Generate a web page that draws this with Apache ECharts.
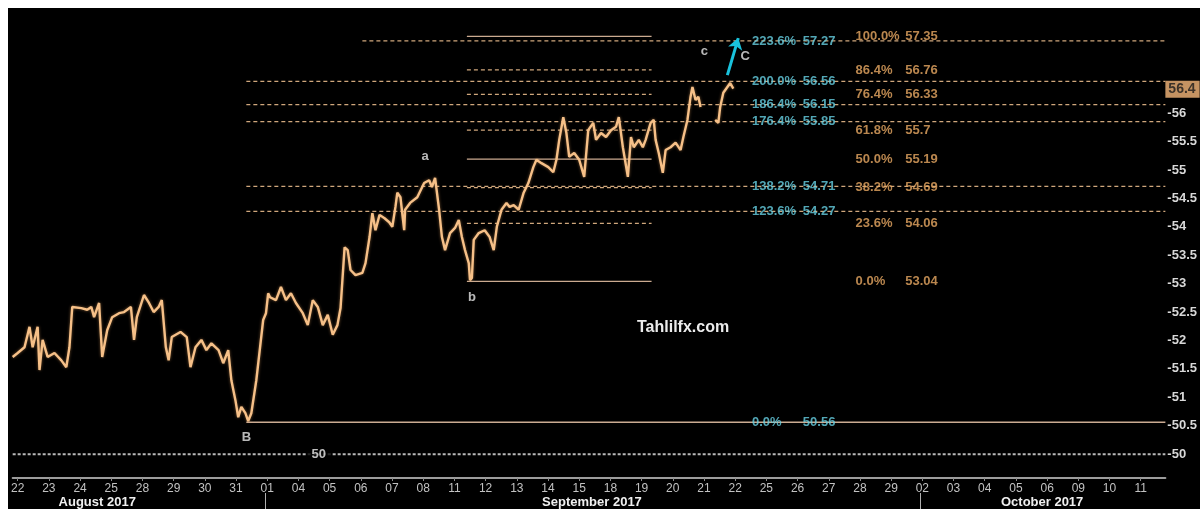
<!DOCTYPE html>
<html><head><meta charset="utf-8">
<script src="https://cdn.jsdelivr.net/npm/echarts@6/dist/echarts.min.js"></script>
<style>
html,body{margin:0;padding:0;background:#fff;width:1200px;height:509px;overflow:hidden}
#c{position:absolute;left:8px;top:8px;width:1192px;height:501px;background:#000}
</style>
</head><body><div id="c"></div>
<script>
// ---------- data ----------
const tradingDays = ['22','23','24','25','28','29','30','31','01','04','05','06','07','08','11','12','13','14','15','18','19','20','21','22','25','26','27','28','29','02','03','04','05','06','09','10','11'];
const months = ['August 2017','September 2017','October 2017'];
const monthCentre = [2.55, 18.41, 32.84];     // trading-day index where month label sits
const monthStart = [7.93, 28.93];             // separators (01 Sep, 02 Oct)

// time in trading-day index (0 = 22 Aug), price
const priceT = [
 -0.16,0,0.22,0.38,0.48,0.64,0.70,0.80,0.96,1.18,
 1.40,1.56,1.66,1.75,2.04,2.23,2.36,2.45,2.61,2.71,
 2.87,3.03,3.25,3.41,3.63,3.73,3.82,4.05,4.21,4.36,
 4.52,4.62,4.75,4.84,4.94,5.22,5.42,5.54,5.70,5.89,
 6.05,6.21,6.44,6.59,6.75,6.85,6.98,7.07,7.17,7.30,
 7.39,7.49,7.65,7.77,7.87,7.96,8.03,8.09,8.28,8.44,
 8.60,8.76,8.92,9.14,9.30,9.46,9.62,9.78,9.94,10.10,
 10.25,10.35,10.48,10.58,10.67,10.83,11.05,11.15,11.28,11.37,
 11.47,11.60,11.76,11.91,12.01,12.11,12.17,12.27,12.39,12.42,
 12.58,12.81,13.03,13.19,13.28,13.38,13.51,13.60,13.70,13.86,
 14.02,14.14,14.24,14.34,14.46,14.50,14.56,14.62,14.78,14.97,
 15.13,15.26,15.36,15.51,15.67,15.77,15.90,16.06,16.22,16.37,
 16.53,16.63,16.79,17.01,17.17,17.27,17.36,17.49,17.59,17.68,
 17.84,18.00,18.16,18.29,18.45,18.54,18.70,18.86,19.02,19.18,
 19.27,19.40,19.56,19.66,19.75,19.91,20.04,20.13,20.29,20.39,
 20.45,20.55,20.68,20.77,20.93,21.09,21.25,21.34,21.47,21.57,
 21.63,21.73,21.82,21.89,22.10,22.36,22.46,22.52,22.62,22.75,
 22.84,22.94
];
const priceV = [
 51.71,51.78,51.88,52.24,51.88,52.24,51.48,52.01,51.71,51.78,
 51.65,51.53,51.88,52.59,52.57,52.54,52.59,52.41,52.66,51.71,
 52.18,52.41,52.48,52.50,52.59,52.01,52.41,52.80,52.66,52.50,
 52.59,52.71,51.88,51.65,52.06,52.15,52.06,51.53,51.88,52.01,
 51.83,51.95,51.83,51.60,51.83,51.30,50.95,50.65,50.83,50.72,
 50.58,50.72,51.30,51.88,52.36,52.48,52.83,52.76,52.71,52.94,
 52.71,52.83,52.66,52.48,52.27,52.71,52.59,52.27,52.45,52.10,
 52.27,52.57,53.64,53.59,53.24,53.15,53.19,53.36,53.82,54.24,
 53.94,54.21,54.15,54.08,54.00,54.35,54.60,54.52,53.94,54.30,
 54.42,54.52,54.77,54.82,54.70,54.86,54.30,53.82,53.59,53.89,
 53.98,54.12,53.82,53.59,53.36,53.06,53.10,53.77,53.89,53.94,
 53.82,53.59,54.00,54.30,54.42,54.35,54.38,54.30,54.60,54.77,
 55.05,55.18,55.12,55.05,54.96,55.18,55.53,55.93,55.65,55.23,
 55.30,55.18,54.88,55.70,55.83,55.53,55.65,55.58,55.70,55.76,
 55.93,55.40,54.88,55.58,55.40,55.53,55.40,55.53,55.83,55.88,
 55.53,55.30,54.95,55.35,55.40,55.48,55.35,55.58,55.88,56.29,
 56.46,56.23,56.29,56.11,null,55.88,55.83,56.11,56.36,56.46,
 56.53,56.43
];
const lastPrice = 56.42;
const yTicks = [50,50.5,51,51.5,52,52.5,53,53.5,54,54.5,55,55.5,56];

// Fibonacci extension (cyan)
const extPct = ['223.6%','200.0%','186.4%','176.4%','138.2%','123.6%'];
const extLevels = [57.27,56.56,56.15,55.85,54.71,54.27];
const extZeroPct = '0.0%';
const extZero = 50.56;
// Fibonacci retracement (orange)
const retPct = ['100.0%','86.4%','76.4%','61.8%','50.0%','38.2%','23.6%','0.0%'];
const retLevels = [57.35,56.76,56.33,55.7,55.19,54.69,54.06,53.04];
const roundLevel = 50;

// anchor times (trading-day index)
const tB = 7.33, tTopLine = 11.05, tRetStart = 14.40, tRetEnd = 20.32;

// wave labels
const waveText = ['a','b','c','C','B'];
const waveT = [13.06,14.56,22.01,23.32,7.33];
const waveV = [55.23,52.76,57.08,56.99,50.30];
const arrowFrom = [22.75,56.67];
const arrowTo = [23.10,57.32];

// ---------- chart ----------
const XMIN = -0.16, XMAX = 36.79;
const FONT = 'Liberation Sans, Arial, sans-serif';
const tan = '#d0a77c';
const cyan = '#66d0e2';
const orange = '#e9a963';

const series = [];
series.push({
  type:'line', name:'price', z:5, symbol:'none', connectNulls:false,
  data: priceT.map((t,k)=>[t, priceV[k]]),
  lineStyle:{color:'#f6c088', width:2.4, shadowColor:'rgba(240,170,100,0.5)', shadowBlur:3},
  markLine:{silent:true, symbol:['none','arrow'], symbolSize:11,
    lineStyle:{color:'#19c2dc', width:3, type:'solid'}, label:{show:false},
    data:[[{coord:arrowFrom},{coord:arrowTo}]]}
});
function hline(v, t0, t1, color, type, width, z){
  return {type:'line', symbol:'none', silent:true, z:z||2, data:[[t0,v],[t1,v]],
    lineStyle:{color:color, type:type, width:width||1.2}};
}
extLevels.forEach((v,k)=>{
  series.push(hline(v, k===0 ? tTopLine : tB, XMAX, tan, [4,3], 1.3));
});
series.push(hline(extZero, tB, XMAX, '#cbab92', 'solid', 1.6));
series.push(hline(roundLevel, XMIN, XMAX, '#b8b8b8', [3,2], 2));
retLevels.forEach((v,k)=>{
  const solid = (retPct[k]==='100.0%'||retPct[k]==='50.0%'||retPct[k]==='0.0%');
  series.push(hline(v, tRetStart, tRetEnd, solid?'#cbaa90':tan, solid?'solid':[4,3], 1.3));
});
function textSeries(items, labelStyle, z){
  return {type:'scatter', symbolSize:0, silent:true, clip:false, z:z||6,
    data: items.map(d=>({value:[d[0],d[1]], label:{formatter:d[2]}})),
    label:Object.assign({show:true, fontFamily:FONT}, labelStyle)};
}
const lbl = {position:'right', distance:0, fontSize:13, fontWeight:'bold'};
// extension labels
const extItemsP = extLevels.map((v,k)=>[23.54, v, extPct[k]]).concat([[23.54, extZero, extZeroPct]]);
const extItemsV = extLevels.map((v)=>[25.17, v, String(v)]).concat([[25.17, extZero, String(extZero)]]);
series.push(textSeries(extItemsP, Object.assign({color:cyan}, lbl)));
series.push(textSeries(extItemsV, Object.assign({color:cyan}, lbl)));
// retracement labels
series.push(textSeries(retLevels.map((v,k)=>[26.86, v, retPct[k]]), Object.assign({color:orange}, lbl)));
series.push(textSeries(retLevels.map((v)=>[28.45, v, String(v)]), Object.assign({color:orange}, lbl)));
// wave labels
series.push(textSeries(waveText.map((s,k)=>[waveT[k], waveV[k], s]), {position:'inside', color:'#e6e6e6', fontSize:13, fontWeight:'bold'}));
// 50 label on round line
series.push(textSeries([[9.65, roundLevel, String(roundLevel)]], {position:'inside', color:'#ececec', fontSize:13, fontWeight:'bold', backgroundColor:'#000', padding:[1,5]}));
// last price box
series.push(textSeries([[XMAX, lastPrice, lastPrice.toFixed(1)]], {position:'right', distance:0, color:'#1a1a1a', fontSize:14, fontWeight:'bold', backgroundColor:'#f6b87a', padding:[2,4,1,3]}, 8));

const chart = echarts.init(document.getElementById('c'), null, {renderer:'canvas'});
chart.setOption({
  backgroundColor:'#000',
  animation:false,
  grid:{left:0, top:0, width:1160, height:470, containLabel:false},
  xAxis:[{
    type:'value', min:XMIN, max:XMAX, position:'bottom',
    axisLine:{show:true, lineStyle:{color:'#9c9c9c', width:2}},
    axisTick:{show:true, customValues: tradingDays.map((d,k)=>k), length:3, lineStyle:{color:'#8a8a8a'}},
    axisLabel:{show:true, customValues: tradingDays.map((d,k)=>k), formatter:(v)=>tradingDays[Math.round(v)],
      color:'#c2c2c2', fontSize:12, fontFamily:FONT, margin:5},
    splitLine:{show:false}
  },{
    type:'value', min:XMIN, max:XMAX, position:'bottom', offset:15,
    axisLine:{show:false},
    axisTick:{show:true, customValues: monthStart, length:16, lineStyle:{color:'#b0b0b0', width:1}},
    axisLabel:{show:true, customValues: monthCentre, formatter:(v)=>months[monthCentre.indexOf(v)],
      color:'#f0f0f0', fontSize:13, fontWeight:'bold', fontFamily:FONT, margin:3},
    splitLine:{show:false}
  }],
  yAxis:{
    type:'value', position:'right', min:49.58, max:57.85,
    axisLine:{show:false}, axisTick:{show:false}, splitLine:{show:false},
    axisLabel:{show:true, customValues:yTicks, formatter:(v)=>'-'+v, color:'#d8d8d8',
      fontSize:13, fontWeight:'bold', fontFamily:FONT, margin:2}
  },
  graphic:[{type:'text', left:637-8, top:320-8, z:10,
    style:{text:'Tahlilfx.com', fill:'#ececec', font:'bold 16px '+FONT}}],
  series: series
});
</script>
</body></html>
